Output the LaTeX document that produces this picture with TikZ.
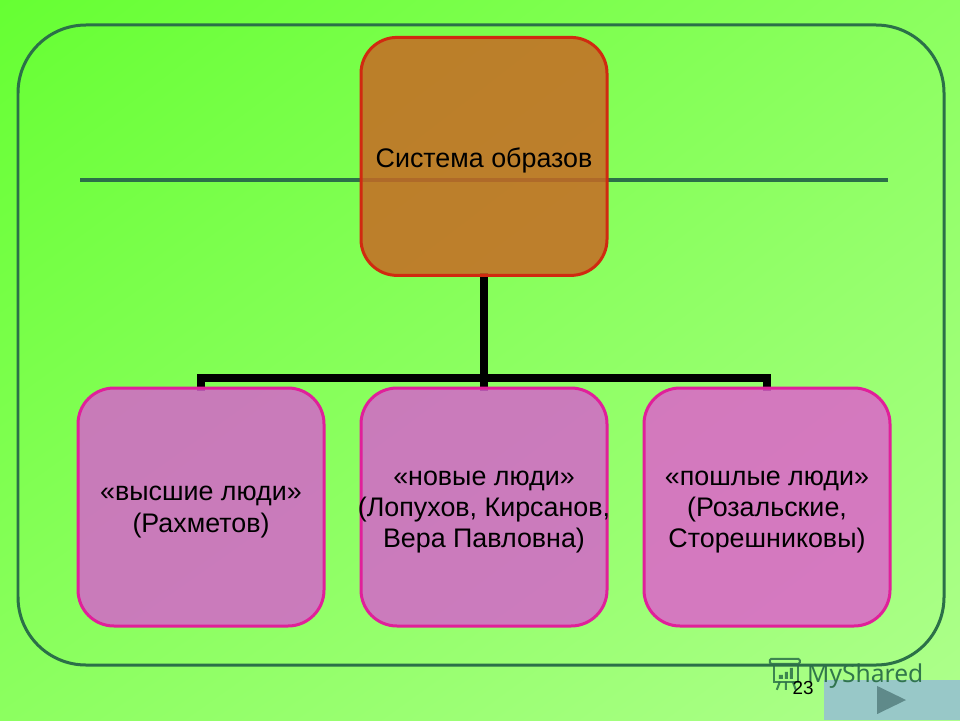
\documentclass[tikz,border=0pt]{standalone}
\usepackage{fontspec}
\setmainfont{Liberation Sans}
\newfontfamily\markfont{Noto Sans}
\usepackage[usenames,dvipsnames]{xcolor}
\usetikzlibrary{arrows, positioning, shadings, backgrounds}
\definecolor{bgtl}{HTML}{66FF33}
\definecolor{bgmid}{HTML}{8CFF60}
\definecolor{bgbr}{HTML}{AEFF8C}
\definecolor{framegreen}{HTML}{2B7048}
\definecolor{topfill}{HTML}{C76924}
\definecolor{topline}{HTML}{D02A10}
\definecolor{lowfill}{HTML}{D565CB}
\definecolor{lowlight}{HTML}{DE62CC}
\definecolor{lowline}{HTML}{E0209A}
\definecolor{navfill}{HTML}{98C8C8}
\definecolor{navmark}{HTML}{5F8A8A}
\newcommand{\firstline}{\rule{0pt}{17.5pt}}
\begin{document}
\begin{tikzpicture}[node distance=7.075cm]
 \tikzstyle{topbox}=[rectangle,draw=topline,line width=.075cm,rounded corners=.9cm,
   fill=topfill,fill opacity=.85,text opacity=1,inner xsep=0pt,
   minimum width=6.15cm,minimum height=5.95cm,align=center,
   font=\fontsize{19.1}{22.3}\selectfont]
 \tikzstyle{lowbox}=[topbox,draw=lowline,fill=lowfill]
 \tikzstyle{link}=[line width=.2cm,line cap=rect]
 \useasboundingbox (0,0) rectangle (24,18);
 \node (top) at (12.1,14.09) [topbox] {\rule{0pt}{20pt}Система образов};
 \node (lowb) [lowbox,below of=top,node distance=8.765cm]
   {\firstline«новые люди»\\\makebox[6cm]{(Лопухов, Кирсанов,}\\Вера Павловна)};
 \node (lowa) [lowbox,left of=lowb] {\firstline«высшие люди»\\(Рахметов)};
 \node (lowd) [lowbox,right of=lowb,fill=lowlight]
   {\firstline«пошлые люди»\\(Розальские,\\Сторешниковы)};
 \coordinate (bus) at (12.1,8.55);
 \begin{pgfonlayer}{background}
  \shade[upper left=bgtl,lower right=bgbr,upper right=bgmid,lower left=bgmid]
    (0,0) rectangle (24,18);
  \node (frame) at (12.025,9.375) [rectangle,draw=framegreen,line width=.075cm,
    rounded corners=1.7cm,minimum width=23.15cm,minimum height=16cm] {};
  \draw[draw=framegreen,line width=.09cm] (2,13.5) -- (22.2,13.5);
  \draw[link] (top.south) -- (lowb.north);
  \draw[link] (lowa.north) |- (bus) -| (lowd.north);
 \end{pgfonlayer}
 \node (nav) at (22.3,.5) [rectangle,fill=navfill,minimum width=3.4cm,minimum height=1cm,
   inner sep=0pt] {};
 \fill[navmark] (21.93,.85) -- (22.65,.5) -- (21.93,.15) -- cycle;
 % watermark
 \begin{scope}[shift={(0,18)},x=.025cm,y=-.025cm,draw=framegreen,fill=framegreen,
   line width=.05cm,opacity=.85]
  \draw[rounded corners=1pt] (770,664) -- (770,659) -- (800,659) -- (800,664) -- cycle;
  \draw (774,664) -- (774,682) -- (798,682) -- (798,664);
  \fill (779,675) rectangle (783,679) (785,672) rectangle (788,679) (790,668) rectangle (793,679);
  \draw (780,682) -- (777,690) (786,682) -- (786,690) (793,682) -- (796,690);
 \end{scope}
 \node (mark) at (21.63,1.09) [text=framegreen,opacity=.95,
   font=\markfont\fontsize{17.5}{18}\selectfont] {MyShared};
 \node (num) at (20.08,.8) [font=\fontsize{13.4}{14}\selectfont] {23};
\end{tikzpicture}
\end{document}
